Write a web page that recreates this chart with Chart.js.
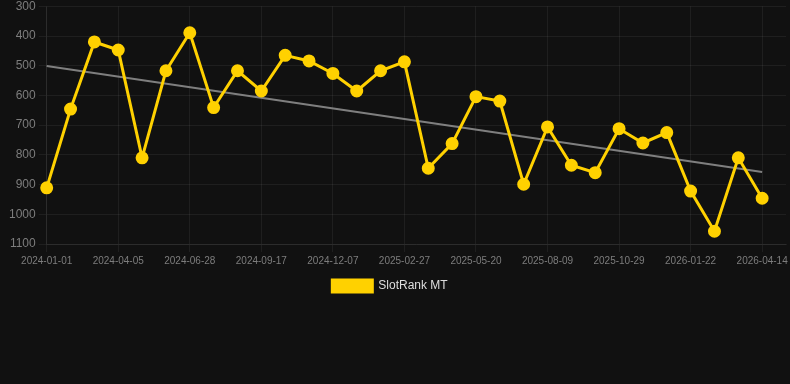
<!DOCTYPE html>
<html>
<head>
<meta charset="utf-8">
<script src="https://cdn.jsdelivr.net/npm/chart.js@4.4.1/dist/chart.umd.min.js"></script>
<style>
  html, body { margin: 0; padding: 0; background: #111111; }
  #wrap { width: 790px; height: 384px; position: relative; }
</style>
</head>
<body>
<div id="wrap"><canvas id="c"></canvas></div>
<script>
// Dates (every third one is shown as a tick label); last entry is an empty slot
const dates = [
  "2024-01-01","2024-02-02","2024-03-05","2024-04-05","2024-05-03","2024-05-31",
  "2024-06-28","2024-07-25","2024-08-21","2024-09-17","2024-10-14","2024-11-10",
  "2024-12-07","2025-01-03","2025-01-31","2025-02-27","2025-03-26","2025-04-23",
  "2025-05-20","2025-06-16","2025-07-13","2025-08-09","2025-09-05","2025-10-02",
  "2025-10-29","2025-11-25","2025-12-22","2026-01-22","2026-02-18","2026-03-17",
  "2026-04-14","2026-05-11"
];
const shownDates = ["2024-01-01","2024-04-05","2024-06-28","2024-09-17","2024-12-07",
  "2025-02-27","2025-05-20","2025-08-09","2025-10-29","2026-01-22","2026-04-14"];
const rankValues = [
  911, 646, 420, 447, 810, 517, 389, 641, 517, 585, 465, 484,
  526, 585, 517, 487, 845, 762, 604, 619, 899, 706, 835, 860,
  712, 760, 725, 922, 1057, 810, 946
];
const trendStart = 501;
const trendEnd = 858;
const yTicks = [300, 400, 500, 600, 700, 800, 900, 1000, 1100];

Chart.defaults.font.family = "'Liberation Sans', Arial, Helvetica, sans-serif";

const gold = "rgb(255, 209, 0)";
const gridCol = "rgba(255,255,255,0.06)";

const legendShift = {
  id: "legendShift",
  afterLayout(chart) {
    if (chart.legend) { chart.legend.left -= 6; chart.legend.right -= 6; }
  }
};

const ctx = document.getElementById("c");
new Chart(ctx, {
  type: "line",
  data: {
    labels: dates,
    datasets: [
      {
        label: "SlotRank MT",
        data: rankValues,
        borderColor: gold,
        backgroundColor: gold,
        pointBackgroundColor: gold,
        pointBorderColor: gold,
        borderWidth: 3,
        pointRadius: 5,
        pointHoverRadius: 5,
        tension: 0,
        clip: false,
        order: 1
      },
      {
        label: "trend",
        data: [{x: dates[0], y: trendStart}, {x: dates[rankValues.length - 1], y: trendEnd}],
        borderColor: "rgba(140,140,140,0.9)",
        backgroundColor: "rgba(140,140,140,0.9)",
        borderWidth: 2,
        pointRadius: 0,
        tension: 0,
        order: 2
      }
    ]
  },
  plugins: [legendShift],
  options: {
    responsive: true,
    maintainAspectRatio: false,
    animation: false,
    layout: { autoPadding: false, padding: { left: 6, right: 4, top: 0, bottom: 82 } },
    scales: {
      x: {
        type: "category",
        offset: false,
        grid: {
          color: function(c) {
            const l = dates[c.index];
            return shownDates.includes(l) ? gridCol : "rgba(0,0,0,0)";
          },
          tickLength: 8
        },
        border: { color: gridCol },
        ticks: {
          autoSkip: false,
          maxRotation: 0,
          color: "#7d7d7d",
          font: { size: 10 },
          callback: function(v, i) {
            const l = dates[i];
            return shownDates.includes(l) ? l : "";
          }
        }
      },
      y: {
        reverse: true,
        min: yTicks[0],
        max: yTicks[yTicks.length - 1],
        grid: { color: gridCol, tickLength: 8 },
        border: { color: gridCol },
        afterBuildTicks: function(axis) { axis.ticks = yTicks.map(v => ({ value: v })); },
        ticks: {
          color: "#7d7d7d",
          font: { size: 12, lineHeight: 0.55 },
          padding: 3,
          callback: function(v) { return String(v); }
        }
      }
    },
    plugins: {
      legend: {
        position: "bottom",
        labels: {
          color: "#dddddd",
          font: { size: 12 },
          boxWidth: 40,
          boxHeight: 12,
          filter: function(item) { return item.text === "SlotRank MT"; }
        }
      },
      tooltip: { enabled: false }
    }
  }
});
</script>
</body>
</html>
